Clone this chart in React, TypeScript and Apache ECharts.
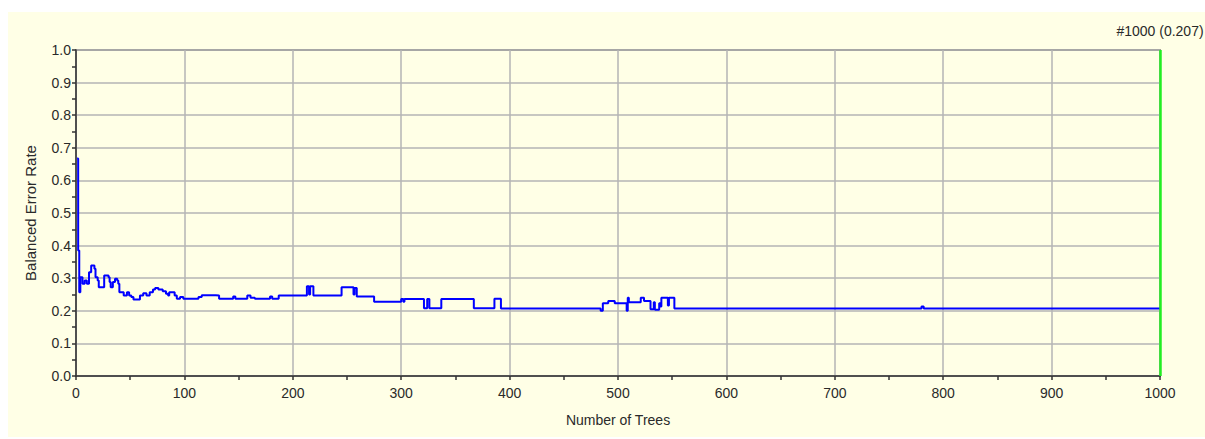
import React, { useEffect, useRef } from "react";
import * as echarts from "echarts";

// Number of trees at which the balanced error rate changes (step points)
const trees: number[] = [
  1, 2, 3, 4, 6, 8, 10, 12, 14, 17, 18, 20, 21, 26, 30, 31, 32, 34, 36, 38, 39, 40,
  44, 47, 49, 51, 53, 59, 62, 65, 68, 71, 73, 76, 80, 83, 85, 86, 91, 93, 96, 99,
  113, 116, 129, 132, 145, 147, 158, 161, 165, 179, 181, 187, 213, 215, 216, 219,
  245, 256, 257, 259, 275, 300, 302, 303, 321, 324, 326, 337, 367, 386, 392,
  484, 486, 491, 497, 508, 509, 510, 521, 524, 530, 533, 534, 538, 539, 540, 546,
  547, 552, 780, 782, 1000,
];
const errorRate: number[] = [
  0.667, 0.385, 0.257, 0.303, 0.283, 0.293, 0.283, 0.318, 0.339, 0.329, 0.303, 0.293,
  0.272, 0.308, 0.303, 0.288, 0.272, 0.288, 0.298, 0.293, 0.283, 0.257,
  0.247, 0.257, 0.247, 0.242, 0.235, 0.247, 0.254, 0.247, 0.257, 0.265, 0.27, 0.265,
  0.26, 0.252, 0.247, 0.257, 0.247, 0.237, 0.242, 0.237,
  0.242, 0.248, 0.247, 0.237, 0.244, 0.237, 0.247, 0.24, 0.237, 0.244, 0.237, 0.247,
  0.275, 0.25, 0.275, 0.247, 0.272, 0.25, 0.27, 0.244, 0.228, 0.236, 0.228, 0.236,
  0.208, 0.236, 0.208, 0.236, 0.208, 0.237, 0.207,
  0.2, 0.223, 0.23, 0.223, 0.2, 0.24, 0.226, 0.24, 0.23, 0.205, 0.226, 0.203, 0.223,
  0.213, 0.24, 0.216, 0.24, 0.207, 0.213, 0.207, 0.207,
];

const xTitle = "Number of Trees";
const yTitle = "Balanced Error Rate";
const selectedTree = 1000;
const selectedValue = 0.207;

export default function App() {
  const ref = useRef<HTMLDivElement>(null);
  useEffect(() => {
    if (!ref.current) return;
    const chart = echarts.init(ref.current, undefined, { renderer: "svg" });
    const font = "Liberation Sans, Arial, sans-serif";
    const txt = "#2A2A2A";
    const data = trees.map((t, i) => [t, errorRate[i]]);
    chart.setOption({
      animation: false,
      backgroundColor: "#FFFFE6",
      textStyle: { fontFamily: font },
      grid: {
        left: 68,
        top: 38,
        width: 1084,
        height: 326,
        show: true,
        borderColor: "#555555",
        borderWidth: 1.5,
        backgroundColor: "transparent",
      },
      xAxis: {
        type: "value",
        min: 0,
        max: 1000,
        interval: 100,
        name: xTitle,
        nameLocation: "middle",
        nameGap: 37,
        nameTextStyle: { color: txt, fontSize: 14, fontFamily: font },
        axisLine: { show: true, lineStyle: { color: "#333333", width: 1.5 } },
        axisTick: { show: true, length: 4, lineStyle: { color: "#333333", width: 1.5 } },
        minorTick: { show: true, splitNumber: 2, length: 4, lineStyle: { color: "#333333", width: 1.5 } },
        axisLabel: {
          color: txt,
          fontSize: 14,
          margin: 10,
          fontFamily: font,
          formatter: (v: number) => String(v),
        },
        splitLine: { show: true, lineStyle: { color: "#B4B4B4", width: 1.5 } },
      },
      yAxis: {
        type: "value",
        min: 0,
        max: 1,
        interval: 0.1,
        name: yTitle,
        nameLocation: "middle",
        nameRotate: 90,
        nameGap: 38,
        nameTextStyle: { color: txt, fontSize: 15, fontFamily: font },
        axisLine: { show: true, lineStyle: { color: "#333333", width: 1.5 } },
        axisTick: { show: true, length: 4, lineStyle: { color: "#333333", width: 1.5 } },
        minorTick: { show: true, splitNumber: 2, length: 4, lineStyle: { color: "#333333", width: 1.5 } },
        axisLabel: {
          color: txt,
          fontSize: 14,
          margin: 5,
          fontFamily: font,
          formatter: (v: number) => v.toFixed(1),
        },
        splitLine: { show: true, lineStyle: { color: "#B4B4B4", width: 1.5 } },
      },
      series: [
        {
          type: "line",
          data,
          step: "end",
          showSymbol: false,
          symbol: "none",
          lineStyle: { color: "#0000FF", width: 2 },
          markLine: {
            silent: true,
            symbol: "none",
            lineStyle: { color: "#22EE22", width: 2.5, type: "solid" },
            label: {
              show: true,
              position: "end",
              distance: 12,
              color: txt,
              fontSize: 14,
              fontFamily: font,
              formatter: `#${selectedTree} (${selectedValue.toFixed(3)})`,
            },
            data: [{ xAxis: selectedTree }],
          },
        },
      ],
    });
    return () => chart.dispose();
  }, []);
  return (
    <div
      ref={ref}
      style={{ position: "absolute", left: 8, top: 12, width: 1197, height: 425 }}
    />
  );
}
